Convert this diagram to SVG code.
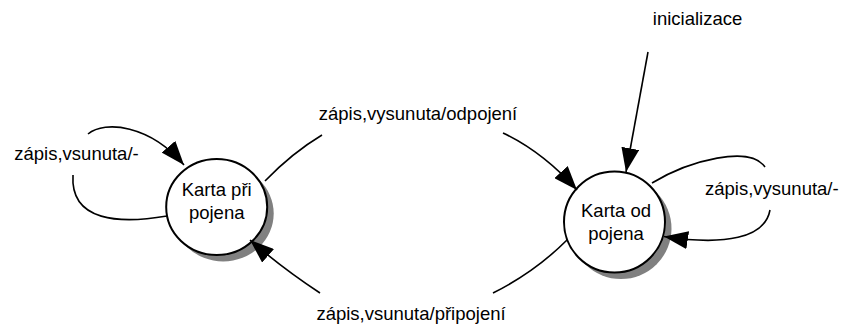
<svg xmlns="http://www.w3.org/2000/svg" width="841" height="327" viewBox="0 0 841 327">
<style>
  .lbl { font-family: "Liberation Sans", Arial, sans-serif; font-size: 18.5px; fill: #000; }
  .state { fill: #fff; stroke: #000; stroke-width: 2; }
  .shadow { fill: #808080; stroke: none; }
  .edge { fill: none; stroke: #000; stroke-width: 1.6; }
</style>
<defs>
  <marker id="arr" markerUnits="userSpaceOnUse" viewBox="0 0 24 18" markerWidth="24" markerHeight="18" refX="24" refY="9" orient="auto">
    <path d="M0,0 L24,9 L0,18 z" fill="#000"/>
  </marker>
</defs>
<rect x="0" y="0" width="841" height="327" fill="#fff"/>

<g id="node-pripojena">
  <ellipse class="shadow" cx="223.2" cy="213.5" rx="50.5" ry="48"/>
  <ellipse class="state" cx="216.7" cy="207" rx="50.5" ry="48"/>
  <text class="lbl" x="216.7" y="195.7" text-anchor="middle">Karta při</text>
  <text class="lbl" x="216.7" y="219" text-anchor="middle">pojena</text>
</g>

<g id="node-odpojena">
  <circle class="shadow" cx="621" cy="228.5" r="50.5"/>
  <circle class="state" cx="614.5" cy="222" r="50.5"/>
  <text class="lbl" x="616" y="216.7" text-anchor="middle">Karta od</text>
  <text class="lbl" x="616" y="239.5" text-anchor="middle">pojena</text>
</g>

<g id="connectors">
  <path class="edge" d="M648,52 L626,172" marker-end="url(#arr)"/>
  <path class="edge" d="M265,181 Q292,153 322,135"/>
  <path class="edge" d="M503,133 Q543,152 577,190" marker-end="url(#arr)"/>
  <path class="edge" d="M320,293 Q282,268 250,240" marker-end="url(#arr)"/>
  <path class="edge" d="M493,293 Q535,272 567,240"/>
  <path class="edge" d="M652,183 C690,160 750,145 765,167"/>
  <path class="edge" d="M770,210 C765,238 725,246 664,236.5" marker-end="url(#arr)"/>
  <path class="edge" d="M88,134 C105,120 150,125 184,165" marker-end="url(#arr)"/>
  <path class="edge" d="M73,175 C70,222 120,224 167,216"/>
</g>

<g id="labels">
  <text class="lbl" x="697.5" y="25" text-anchor="middle">inicializace</text>
  <text class="lbl" x="418" y="120" text-anchor="middle">zápis,vysunuta/odpojení</text>
  <text class="lbl" x="411" y="320" text-anchor="middle">zápis,vsunuta/připojení</text>
  <text class="lbl" x="76.5" y="160" text-anchor="middle">zápis,vsunuta/-</text>
  <text class="lbl" x="705" y="195">zápis,vysunuta/-</text>
</g>
</svg>
